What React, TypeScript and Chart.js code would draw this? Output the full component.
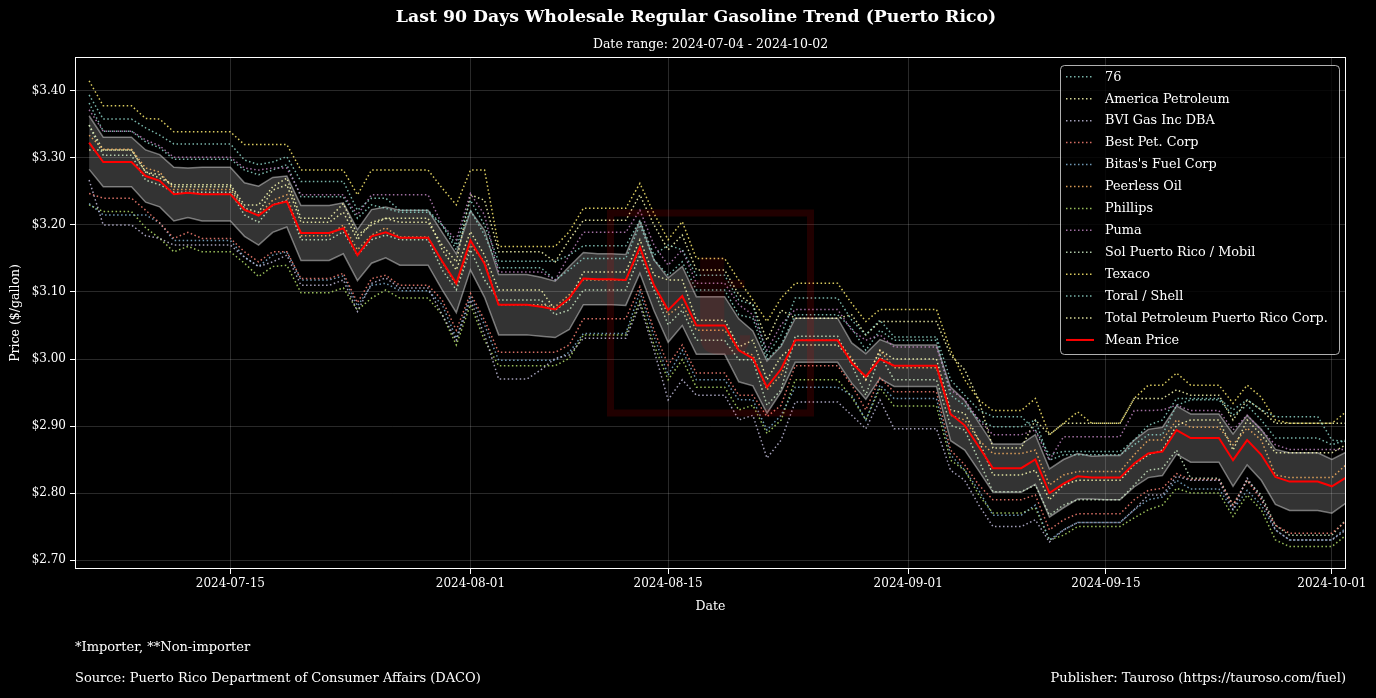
import React, { useEffect, useRef } from "react";
import { Chart, registerables } from "chart.js";

Chart.register(...registerables);

const FONT = "'DejaVu Serif', serif";

const TITLE = "Last 90 Days Wholesale Regular Gasoline Trend (Puerto Rico)";
const SUBTITLE = "Date range: 2024-07-04 - 2024-10-02";
const X_TITLE = "Date";
const Y_TITLE = "Price ($/gallon)";
const FOOTNOTE = "*Importer, **Non-importer";
const SOURCE = "Source: Puerto Rico Department of Consumer Affairs (DACO)";
const PUBLISHER = "Publisher: Tauroso (https://tauroso.com/fuel)";

const AXIS_START = "2024-07-04";
const AXIS_END = "2024-10-02";
const FIRST_DATE = "2024-07-05"; // one value per day from here, 90 days
const X_TICK_LABELS = ["2024-07-15", "2024-08-01", "2024-08-15", "2024-09-01", "2024-09-15", "2024-10-01"];
const Y_TICKS = [2.7, 2.8, 2.9, 3.0, 3.1, 3.2, 3.3, 3.4];
const Y_MIN = 2.6866;
const Y_MAX = 3.4507;

const P_76 = [
  3.394, 3.358, 3.358, 3.358, 3.345, 3.334, 3.321, 3.321, 3.321, 3.321,
  3.321, 3.297, 3.290, 3.294, 3.302, 3.265, 3.265, 3.265, 3.265, 3.222,
  3.240, 3.240, 3.222, 3.222, 3.222, 3.200, 3.170, 3.237, 3.200, 3.146,
  3.146, 3.146, 3.146, 3.146, 3.155, 3.169, 3.169, 3.169, 3.169, 3.207,
  3.155, 3.170, 3.163, 3.125, 3.125, 3.125, 3.088, 3.081, 3.006, 3.036,
  3.091, 3.091, 3.091, 3.091, 3.058, 3.036, 3.058, 3.033, 3.033, 3.033,
  3.033, 2.969, 2.946, 2.924, 2.914, 2.914, 2.914, 2.894, 2.857, 2.862,
  2.862, 2.862, 2.862, 2.862, 2.879, 2.901, 2.909, 2.941, 2.941, 2.941,
  2.941, 2.924, 2.939, 2.924, 2.914, 2.914, 2.914, 2.914, 2.879, 2.877,
];
const P_AMERICA = [
  3.312, 3.312, 3.312, 3.312, 3.279, 3.270, 3.260, 3.260, 3.260, 3.260,
  3.260, 3.230, 3.230, 3.257, 3.270, 3.210, 3.210, 3.210, 3.232, 3.185,
  3.200, 3.210, 3.210, 3.210, 3.210, 3.163, 3.133, 3.190, 3.155, 3.103,
  3.103, 3.103, 3.103, 3.073, 3.088, 3.130, 3.130, 3.130, 3.130, 3.178,
  3.125, 3.118, 3.118, 3.058, 3.058, 3.058, 3.018, 3.028, 2.969, 3.004,
  3.021, 3.021, 3.021, 3.021, 2.999, 2.969, 3.013, 3.000, 3.000, 3.000,
  3.000, 2.924, 2.919, 2.879, 2.827, 2.827, 2.827, 2.834, 2.790, 2.812,
  2.819, 2.819, 2.819, 2.819, 2.842, 2.857, 2.864, 2.901, 2.909, 2.909,
  2.909, 2.864, 2.909, 2.887, 2.860, 2.860, 2.860, 2.860, 2.860, 2.872,
];
const P_BVI = [
  3.267, 3.200, 3.200, 3.200, 3.184, 3.180, 3.170, 3.170, 3.170, 3.170,
  3.170, 3.152, 3.138, 3.145, 3.155, 3.110, 3.110, 3.110, 3.118, 3.071,
  3.113, 3.121, 3.106, 3.106, 3.106, 3.066, 3.028, 3.088, 3.036, 2.970,
  2.970, 2.970, 2.984, 3.001, 3.006, 3.031, 3.031, 3.031, 3.031, 3.081,
  3.013, 2.939, 2.969, 2.946, 2.946, 2.946, 2.909, 2.916, 2.852, 2.879,
  2.936, 2.936, 2.936, 2.936, 2.916, 2.896, 2.939, 2.896, 2.896, 2.896,
  2.896, 2.834, 2.819, 2.782, 2.750, 2.750, 2.750, 2.760, 2.727, 2.745,
  2.756, 2.756, 2.756, 2.756, 2.775, 2.797, 2.797, 2.825, 2.819, 2.819,
  2.819, 2.775, 2.822, 2.793, 2.745, 2.730, 2.730, 2.730, 2.730, 2.745,
];
const P_BEST = [
  3.247, 3.240, 3.240, 3.240, 3.222, 3.203, 3.180, 3.189, 3.180, 3.180,
  3.180, 3.160, 3.145, 3.160, 3.160, 3.120, 3.120, 3.120, 3.128, 3.084,
  3.120, 3.125, 3.110, 3.110, 3.110, 3.088, 3.043, 3.098, 3.058, 3.010,
  3.010, 3.010, 3.010, 3.010, 3.021, 3.060, 3.060, 3.060, 3.060, 3.108,
  3.043, 2.991, 3.021, 2.979, 2.979, 2.979, 2.946, 2.946, 2.914, 2.931,
  2.990, 2.990, 2.990, 2.990, 2.961, 2.924, 2.972, 2.951, 2.951, 2.951,
  2.951, 2.864, 2.842, 2.812, 2.790, 2.790, 2.790, 2.797, 2.745, 2.760,
  2.769, 2.769, 2.769, 2.769, 2.790, 2.804, 2.807, 2.829, 2.820, 2.820,
  2.820, 2.782, 2.819, 2.790, 2.752, 2.740, 2.740, 2.740, 2.740, 2.758,
];
const P_BITAS = [
  3.232, 3.215, 3.215, 3.215, 3.215, 3.203, 3.177, 3.177, 3.177, 3.177,
  3.177, 3.152, 3.138, 3.155, 3.160, 3.118, 3.118, 3.118, 3.124, 3.079,
  3.110, 3.113, 3.102, 3.102, 3.102, 3.081, 3.031, 3.094, 3.051, 2.998,
  2.998, 2.998, 2.998, 2.998, 3.010, 3.038, 3.038, 3.038, 3.038, 3.100,
  3.034, 2.976, 3.013, 2.969, 2.969, 2.969, 2.939, 2.939, 2.894, 2.916,
  2.958, 2.958, 2.958, 2.958, 2.946, 2.909, 2.961, 2.941, 2.941, 2.941,
  2.941, 2.857, 2.834, 2.804, 2.767, 2.767, 2.767, 2.782, 2.730, 2.745,
  2.756, 2.756, 2.756, 2.756, 2.775, 2.790, 2.794, 2.819, 2.806, 2.806,
  2.806, 2.775, 2.804, 2.782, 2.745, 2.730, 2.730, 2.730, 2.730, 2.748,
];
const P_PEERLESS = [
  3.334, 3.313, 3.313, 3.313, 3.285, 3.279, 3.253, 3.253, 3.253, 3.253,
  3.253, 3.222, 3.215, 3.237, 3.245, 3.184, 3.184, 3.184, 3.200, 3.163,
  3.185, 3.196, 3.182, 3.182, 3.182, 3.145, 3.110, 3.170, 3.145, 3.081,
  3.081, 3.081, 3.081, 3.078, 3.096, 3.118, 3.118, 3.118, 3.118, 3.163,
  3.110, 3.066, 3.081, 3.043, 3.043, 3.043, 3.013, 3.006, 2.954, 2.976,
  3.028, 3.028, 3.028, 3.028, 3.001, 2.969, 3.013, 2.987, 2.987, 2.987,
  2.987, 2.916, 2.909, 2.879, 2.859, 2.859, 2.859, 2.864, 2.812, 2.827,
  2.832, 2.832, 2.832, 2.832, 2.857, 2.879, 2.879, 2.909, 2.898, 2.898,
  2.898, 2.872, 2.897, 2.879, 2.827, 2.823, 2.823, 2.823, 2.823, 2.842,
];
const P_PHILLIPS = [
  3.230, 3.220, 3.220, 3.220, 3.196, 3.180, 3.160, 3.168, 3.160, 3.160,
  3.160, 3.143, 3.123, 3.138, 3.140, 3.099, 3.099, 3.099, 3.106, 3.073,
  3.091, 3.103, 3.091, 3.091, 3.091, 3.066, 3.021, 3.081, 3.028, 2.990,
  2.990, 2.990, 2.990, 2.990, 3.001, 3.036, 3.036, 3.036, 3.036, 3.086,
  3.021, 2.969, 2.999, 2.958, 2.958, 2.958, 2.924, 2.931, 2.889, 2.909,
  2.969, 2.969, 2.969, 2.969, 2.943, 2.909, 2.957, 2.930, 2.930, 2.930,
  2.930, 2.849, 2.834, 2.797, 2.770, 2.770, 2.770, 2.778, 2.730, 2.737,
  2.750, 2.750, 2.750, 2.750, 2.763, 2.775, 2.782, 2.807, 2.800, 2.800,
  2.800, 2.765, 2.797, 2.775, 2.730, 2.720, 2.720, 2.720, 2.720, 2.737,
];
const P_PUMA = [
  3.372, 3.340, 3.340, 3.340, 3.327, 3.318, 3.301, 3.301, 3.301, 3.301,
  3.301, 3.285, 3.282, 3.285, 3.285, 3.245, 3.245, 3.245, 3.245, 3.215,
  3.245, 3.245, 3.245, 3.245, 3.245, 3.200, 3.178, 3.247, 3.215, 3.130,
  3.130, 3.130, 3.130, 3.118, 3.155, 3.189, 3.189, 3.189, 3.189, 3.222,
  3.170, 3.140, 3.163, 3.113, 3.113, 3.113, 3.081, 3.066, 3.013, 3.051,
  3.074, 3.074, 3.074, 3.074, 3.043, 3.028, 3.036, 3.018, 3.018, 3.018,
  3.018, 2.954, 2.939, 2.909, 2.887, 2.887, 2.887, 2.894, 2.849, 2.884,
  2.884, 2.884, 2.884, 2.884, 2.923, 2.923, 2.924, 2.931, 2.923, 2.923,
  2.923, 2.894, 2.916, 2.894, 2.872, 2.865, 2.865, 2.865, 2.865, 2.865,
];
const P_SOL = [
  3.349, 3.304, 3.304, 3.304, 3.267, 3.260, 3.249, 3.249, 3.249, 3.249,
  3.249, 3.215, 3.204, 3.230, 3.237, 3.178, 3.178, 3.178, 3.190, 3.155,
  3.178, 3.185, 3.178, 3.178, 3.178, 3.133, 3.103, 3.163, 3.118, 3.088,
  3.088, 3.088, 3.088, 3.066, 3.073, 3.103, 3.103, 3.103, 3.103, 3.155,
  3.103, 3.051, 3.073, 3.028, 3.028, 3.028, 2.999, 2.999, 2.931, 2.954,
  3.034, 3.034, 3.034, 3.034, 2.991, 2.946, 3.006, 2.969, 2.969, 2.969,
  2.969, 2.901, 2.894, 2.849, 2.802, 2.802, 2.802, 2.812, 2.767, 2.782,
  2.790, 2.790, 2.790, 2.790, 2.812, 2.834, 2.837, 2.864, 2.822, 2.822,
  2.822, 2.782, 2.819, 2.797, 2.752, 2.737, 2.737, 2.737, 2.737, 2.760,
];
const P_TEXACO = [
  3.415, 3.378, 3.378, 3.378, 3.359, 3.358, 3.339, 3.339, 3.339, 3.339,
  3.339, 3.320, 3.320, 3.320, 3.320, 3.282, 3.282, 3.282, 3.282, 3.245,
  3.282, 3.282, 3.282, 3.282, 3.282, 3.255, 3.230, 3.282, 3.282, 3.168,
  3.168, 3.168, 3.168, 3.168, 3.190, 3.225, 3.225, 3.225, 3.225, 3.262,
  3.217, 3.178, 3.205, 3.150, 3.150, 3.150, 3.118, 3.088, 3.056, 3.091,
  3.113, 3.113, 3.113, 3.113, 3.083, 3.056, 3.074, 3.074, 3.074, 3.074,
  3.074, 3.013, 2.969, 2.939, 2.923, 2.923, 2.923, 2.941, 2.887, 2.904,
  2.921, 2.904, 2.904, 2.904, 2.941, 2.961, 2.961, 2.979, 2.961, 2.961,
  2.961, 2.934, 2.961, 2.943, 2.909, 2.904, 2.904, 2.904, 2.904, 2.921,
];
const P_TORAL = [
  3.382, 3.340, 3.340, 3.340, 3.324, 3.315, 3.298, 3.298, 3.298, 3.298,
  3.298, 3.282, 3.275, 3.282, 3.290, 3.242, 3.242, 3.242, 3.242, 3.210,
  3.230, 3.225, 3.219, 3.219, 3.219, 3.200, 3.163, 3.222, 3.185, 3.136,
  3.136, 3.136, 3.136, 3.118, 3.133, 3.150, 3.150, 3.150, 3.150, 3.200,
  3.148, 3.125, 3.145, 3.103, 3.103, 3.103, 3.066, 3.061, 2.999, 3.021,
  3.066, 3.066, 3.066, 3.066, 3.046, 3.013, 3.043, 3.028, 3.028, 3.028,
  3.028, 2.946, 2.931, 2.909, 2.899, 2.899, 2.899, 2.909, 2.849, 2.857,
  2.857, 2.857, 2.857, 2.857, 2.872, 2.887, 2.887, 2.931, 2.939, 2.939,
  2.939, 2.916, 2.931, 2.909, 2.882, 2.882, 2.882, 2.882, 2.872, 2.879,
];
const P_TOTAL = [
  3.349, 3.312, 3.312, 3.312, 3.279, 3.275, 3.257, 3.257, 3.257, 3.257,
  3.257, 3.225, 3.219, 3.252, 3.260, 3.204, 3.204, 3.204, 3.219, 3.178,
  3.204, 3.210, 3.204, 3.204, 3.204, 3.170, 3.145, 3.245, 3.237, 3.160,
  3.160, 3.160, 3.160, 3.145, 3.178, 3.207, 3.207, 3.207, 3.207, 3.245,
  3.200, 3.163, 3.185, 3.133, 3.133, 3.133, 3.096, 3.081, 3.028, 3.073,
  3.061, 3.061, 3.061, 3.061, 3.066, 3.036, 3.056, 3.056, 3.056, 3.056,
  3.056, 3.006, 2.984, 2.939, 2.867, 2.867, 2.867, 2.909, 2.887, 2.904,
  2.904, 2.904, 2.904, 2.904, 2.941, 2.941, 2.941, 2.954, 2.946, 2.946,
  2.946, 2.909, 2.939, 2.924, 2.904, 2.904, 2.904, 2.904, 2.904, 2.904,
];

const MEAN_PRICE = [
  3.323, 3.294, 3.294, 3.294, 3.273, 3.266, 3.246, 3.248, 3.246, 3.246,
  3.246, 3.223, 3.214, 3.230, 3.235, 3.188, 3.188, 3.188, 3.195, 3.155,
  3.183, 3.189, 3.181, 3.181, 3.181, 3.146, 3.113, 3.177, 3.142, 3.081,
  3.081, 3.081, 3.078, 3.074, 3.091, 3.120, 3.119, 3.119, 3.118, 3.167,
  3.110, 3.073, 3.094, 3.050, 3.050, 3.050, 3.013, 3.001, 2.958, 2.985,
  3.028, 3.028, 3.028, 3.028, 2.994, 2.974, 3.000, 2.990, 2.990, 2.990,
  2.990, 2.918, 2.901, 2.869, 2.837, 2.837, 2.837, 2.850, 2.800, 2.814,
  2.825, 2.823, 2.823, 2.823, 2.844, 2.859, 2.862, 2.894, 2.882, 2.882,
  2.882, 2.849, 2.879, 2.857, 2.824, 2.817, 2.817, 2.817, 2.810, 2.823,
];
const STD_PRICE = [
  0.040, 0.037, 0.037, 0.037, 0.039, 0.039, 0.040, 0.037, 0.040, 0.040,
  0.040, 0.040, 0.044, 0.041, 0.038, 0.041, 0.041, 0.041, 0.038, 0.038,
  0.040, 0.038, 0.041, 0.041, 0.041, 0.043, 0.044, 0.044, 0.050, 0.045,
  0.045, 0.045, 0.044, 0.042, 0.047, 0.039, 0.038, 0.038, 0.038, 0.039,
  0.038, 0.048, 0.044, 0.043, 0.043, 0.043, 0.047, 0.041, 0.039, 0.034,
  0.033, 0.033, 0.033, 0.033, 0.030, 0.034, 0.029, 0.031, 0.031, 0.031,
  0.031, 0.040, 0.037, 0.036, 0.036, 0.036, 0.036, 0.037, 0.036, 0.036,
  0.034, 0.032, 0.033, 0.033, 0.035, 0.036, 0.036, 0.036, 0.036, 0.036,
  0.036, 0.039, 0.037, 0.038, 0.041, 0.043, 0.043, 0.043, 0.040, 0.038,
];

const SERIES_NAMES = [
  "76", "America Petroleum", "BVI Gas Inc DBA", "Best Pet. Corp", "Bitas's Fuel Corp",
  "Peerless Oil", "Phillips", "Puma", "Sol Puerto Rico / Mobil", "Texaco",
  "Toral / Shell", "Total Petroleum Puerto Rico Corp.",
];
const SERIES_VALUES = [
  P_76, P_AMERICA, P_BVI, P_BEST, P_BITAS, P_PEERLESS, P_PHILLIPS, P_PUMA, P_SOL, P_TEXACO, P_TORAL, P_TOTAL,
];
const SERIES_COLORS = [
  "#8dd3c7", "#feffb3", "#bfbbd9", "#fa8174", "#81b1d2", "#fdb462",
  "#b3de69", "#bc82bd", "#ccebc4", "#ffed6f", "#8dd3c7", "#feffb3",
];
const MEAN_LABEL = "Mean Price";
const MEAN_COLOR = "#ff0000";

const LINE_ALPHA = 0.85;
const DOT_DASH = [1.5, 2.5];

const DAY_MS = 86400000;
function dayOf(iso: string) {
  return (Date.parse(iso + "T00:00:00Z") - Date.parse(AXIS_START + "T00:00:00Z")) / DAY_MS;
}
function rgba(hex: string, a: number) {
  const n = parseInt(hex.slice(1), 16);
  return `rgba(${(n >> 16) & 255},${(n >> 8) & 255},${n & 255},${a})`;
}

const decorPlugin = {
  id: "decor",
  beforeDraw(chart: any) {
    const ctx = chart.ctx;
    ctx.save();
    ctx.fillStyle = "#000";
    ctx.fillRect(0, 0, chart.width, chart.height);
    ctx.restore();
  },
  afterDatasetsDraw(chart: any) {
    const { ctx, chartArea: a } = chart;
    const cx = (a.left + a.right) / 2;
    const cy = (a.top + a.bottom) / 2;
    // faint watermark
    ctx.save();
    ctx.strokeStyle = "rgba(255,0,0,0.13)";
    ctx.lineWidth = 7;
    ctx.strokeRect(cx - 100, cy - 100, 200, 200);
    ctx.fillStyle = "rgba(255,0,0,0.09)";
    ctx.font = `bold 140px ${FONT}`;
    ctx.textAlign = "center";
    ctx.textBaseline = "middle";
    ctx.fillText("t", cx + 8, cy + 4);
    ctx.restore();
    // spines
    ctx.save();
    ctx.strokeStyle = "#ffffff";
    ctx.lineWidth = 1;
    ctx.strokeRect(Math.round(a.left) + 0.5, Math.round(a.top) + 0.5,
      Math.round(a.right - a.left) - 1, Math.round(a.bottom - a.top) - 1);
    ctx.restore();
  },
  afterDraw(chart: any) {
    const { ctx, chartArea: a } = chart;
    ctx.save();
    ctx.fillStyle = "#ffffff";
    ctx.textBaseline = "middle";
    // title & subtitle
    ctx.textAlign = "center";
    ctx.font = `bold 17.3px ${FONT}`;
    ctx.fillText(TITLE, 696, 18);
    ctx.font = `12.5px ${FONT}`;
    ctx.fillText(SUBTITLE, (a.left + a.right) / 2, 45);
    // axis titles
    ctx.fillText(X_TITLE, (a.left + a.right) / 2, 607);
    ctx.save();
    ctx.translate(16, (a.top + a.bottom) / 2);
    ctx.rotate(-Math.PI / 2);
    ctx.fillText(Y_TITLE, 0, 0);
    ctx.restore();
    // footers
    ctx.font = `13px ${FONT}`;
    ctx.textAlign = "left";
    ctx.fillText(FOOTNOTE, a.left, 648);
    ctx.fillText(SOURCE, a.left, 679);
    ctx.textAlign = "right";
    ctx.fillText(PUBLISHER, a.right, 679);

    // legend
    const bx = 1060.5, by = 65.5, bw = 279, bh = 289;
    ctx.beginPath();
    ctx.roundRect(bx, by, bw, bh, 4);
    ctx.fillStyle = "rgba(0,0,0,0.8)";
    ctx.fill();
    ctx.strokeStyle = "rgba(220,220,220,0.8)";
    ctx.lineWidth = 1;
    ctx.stroke();
    const entries = SERIES_NAMES.map((n, i) => ({ name: n, color: rgba(SERIES_COLORS[i], LINE_ALPHA), dash: DOT_DASH, width: 1.5 }));
    entries.push({ name: MEAN_LABEL, color: MEAN_COLOR, dash: [], width: 2 });
    ctx.font = `12.8px ${FONT}`;
    ctx.textAlign = "left";
    entries.forEach((e, i) => {
      const y = 76.8 + i * 21.93;
      ctx.beginPath();
      ctx.setLineDash(e.dash);
      ctx.lineCap = "butt";
      ctx.strokeStyle = e.color;
      ctx.lineWidth = e.width;
      ctx.moveTo(1066, y);
      ctx.lineTo(1094, y);
      ctx.stroke();
      ctx.setLineDash([]);
      ctx.fillStyle = "#ffffff";
      ctx.fillText(e.name, 1105, y + 0.5);
    });
    ctx.restore();
  },
};

export default function App() {
  const ref = useRef<HTMLCanvasElement | null>(null);

  useEffect(() => {
    document.body.style.margin = "0";
    document.body.style.background = "#000";
    const canvas = ref.current;
    if (!canvas) return;
    const first = dayOf(FIRST_DATE);
    const toPts = (vals: number[]) => vals.map((v, i) => ({ x: first + i, y: v }));

    const upper = MEAN_PRICE.map((m, i) => m + STD_PRICE[i]);
    const lower = MEAN_PRICE.map((m, i) => m - STD_PRICE[i]);

    const datasets: any[] = [];
    datasets.push({
      label: MEAN_LABEL, data: toPts(MEAN_PRICE), borderColor: MEAN_COLOR, borderWidth: 2,
      pointRadius: 0, fill: false, tension: 0, order: 0,
    });
    SERIES_NAMES.forEach((name, i) => {
      datasets.push({
        label: name, data: toPts(SERIES_VALUES[i]), borderColor: rgba(SERIES_COLORS[i], LINE_ALPHA),
        borderWidth: 1.5, borderDash: DOT_DASH, borderCapStyle: "butt", pointRadius: 0,
        fill: false, tension: 0, order: 1,
      });
    });
    datasets.push({
      label: "upper", data: toPts(upper), borderColor: "rgba(255,255,255,0.42)", borderWidth: 1.5,
      pointRadius: 0, fill: "+1", backgroundColor: "rgba(255,255,255,0.2)", tension: 0, order: 2,
    });
    datasets.push({
      label: "lower", data: toPts(lower), borderColor: "rgba(255,255,255,0.42)", borderWidth: 1.5,
      pointRadius: 0, fill: false, tension: 0, order: 2,
    });

    const tickFont = { family: FONT, size: 12 };
    const gridColor = "rgba(255,255,255,0.16)";

    const chart = new Chart(canvas, {
      type: "line",
      data: { datasets },
      options: {
        responsive: false,
        animation: false,
        devicePixelRatio: 1,
        layout: { padding: { left: 0, right: 30, top: 57, bottom: 79 } },
        plugins: {
          legend: { display: false },
          title: { display: false },
          tooltip: { enabled: false },
          filler: { drawTime: "beforeDatasetsDraw" },
        },
        scales: {
          x: {
            type: "linear",
            min: 0,
            max: dayOf(AXIS_END),
            afterBuildTicks: (s: any) => {
              s.ticks = X_TICK_LABELS.map((l) => ({ value: dayOf(l) }));
            },
            afterFit: (s: any) => { s.height = 50; },
            ticks: {
              color: "#ffffff", font: tickFont, padding: 3, maxRotation: 0, autoSkip: false,
              callback: (_v: any, i: number) => X_TICK_LABELS[i],
            },
            grid: { color: gridColor, lineWidth: 1, tickColor: "#ffffff", tickLength: 5, tickWidth: 1 },
            border: { display: false },
          },
          y: {
            type: "linear",
            min: Y_MIN,
            max: Y_MAX,
            afterBuildTicks: (s: any) => {
              s.ticks = Y_TICKS.map((v) => ({ value: v }));
            },
            afterFit: (s: any) => { s.width = 75; },
            ticks: {
              color: "#ffffff", font: tickFont, padding: 4,
              callback: (v: any) => "$" + Number(v).toFixed(2),
            },
            grid: { color: gridColor, lineWidth: 1, tickColor: "#ffffff", tickLength: 5, tickWidth: 1 },
            border: { display: false },
          },
        },
      },
      plugins: [decorPlugin],
    } as any);

    return () => chart.destroy();
  }, []);

  return (
    <div style={{ width: 1376, height: 698, background: "#000" }}>
      <canvas ref={ref} width={1376} height={698} style={{ display: "block", width: 1376, height: 698 }} />
    </div>
  );
}
